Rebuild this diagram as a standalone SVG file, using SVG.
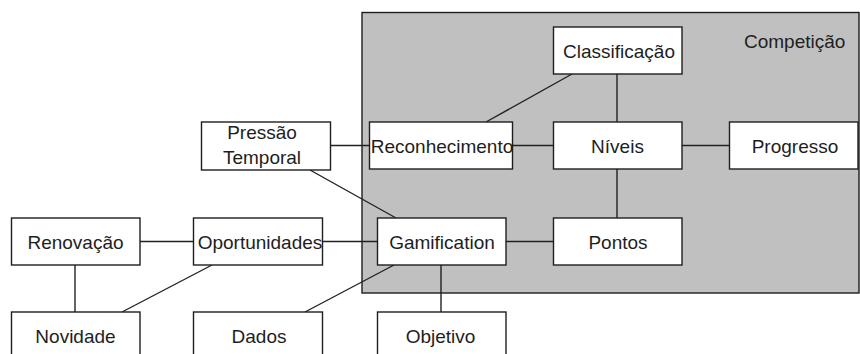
<svg xmlns="http://www.w3.org/2000/svg" width="860" height="354" viewBox="0 0 860 354">
  <style>
    .box { fill: #ffffff; stroke: #1e1e1e; stroke-width: 1.4; }
    .group { fill: #c0c0c0; stroke: #1e1e1e; stroke-width: 1.4; }
    .lbl { font-family: "Liberation Sans", Arial, sans-serif; font-size: 19px; fill: #1e1e1e; text-anchor: middle; }
    .edge { stroke: #222222; stroke-width: 1.4; fill: none; }
  </style>
  <rect width="860" height="354" fill="#ffffff"/>

  <!-- Competição container -->
  <g id="competicao">
    <rect class="group" x="362" y="12.5" width="497" height="280.5"/>
    <text class="lbl" x="744" y="47.5" style="text-anchor:start">Competição</text>
  </g>

  <!-- connectors -->
  <g id="connectors">
    <line class="edge" x1="572" y1="74" x2="486" y2="122"/>
    <line class="edge" x1="617" y1="74" x2="617" y2="122"/>
    <line class="edge" x1="331" y1="145.5" x2="369" y2="145.5"/>
    <line class="edge" x1="513" y1="145.5" x2="553" y2="145.5"/>
    <line class="edge" x1="682" y1="145.5" x2="729" y2="145.5"/>
    <line class="edge" x1="617" y1="169" x2="617" y2="218"/>
    <line class="edge" x1="506" y1="241.5" x2="553" y2="241.5"/>
    <line class="edge" x1="310" y1="170" x2="396" y2="218"/>
    <line class="edge" x1="323" y1="241.5" x2="377" y2="241.5"/>
    <line class="edge" x1="140" y1="241.5" x2="193" y2="241.5"/>
    <line class="edge" x1="75" y1="265" x2="75" y2="312"/>
    <line class="edge" x1="212" y1="265" x2="122" y2="312"/>
    <line class="edge" x1="394" y1="265" x2="305" y2="312"/>
    <line class="edge" x1="441" y1="265" x2="441" y2="312"/>
  </g>

  <g id="classificacao">
    <rect class="box" x="553.5" y="27" width="128.5" height="47"/>
    <text class="lbl" x="619" y="57.5">Classificação</text>
  </g>
  <g id="niveis">
    <rect class="box" x="553.5" y="122" width="128.5" height="47"/>
    <text class="lbl" x="617.5" y="152.5">Níveis</text>
  </g>
  <g id="progresso">
    <rect class="box" x="729.5" y="122" width="128.5" height="47"/>
    <text class="lbl" x="795" y="152.5">Progresso</text>
  </g>
  <g id="reconhecimento">
    <rect class="box" x="369.5" y="122" width="143" height="47"/>
    <text class="lbl" x="442" y="152.5">Reconhecimento</text>
  </g>
  <g id="pressao-temporal">
    <rect class="box" x="201.5" y="122" width="129" height="48"/>
    <text class="lbl" x="262" y="139">Pressão</text>
    <text class="lbl" x="262" y="163.5">Temporal</text>
  </g>
  <g id="gamification">
    <rect class="box" x="377.5" y="218" width="128.5" height="47"/>
    <text class="lbl" x="442" y="248.5">Gamification</text>
  </g>
  <g id="pontos">
    <rect class="box" x="553.5" y="218" width="128.5" height="47"/>
    <text class="lbl" x="618" y="248.5">Pontos</text>
  </g>
  <g id="renovacao">
    <rect class="box" x="11.5" y="218" width="128.5" height="47"/>
    <text class="lbl" x="75.5" y="248.5">Renovação</text>
  </g>
  <g id="oportunidades">
    <rect class="box" x="193.5" y="218" width="129" height="47"/>
    <text class="lbl" x="260" y="248.5">Oportunidades</text>
  </g>
  <g id="novidade">
    <rect class="box" x="11.5" y="312" width="128.5" height="47"/>
    <text class="lbl" x="75.5" y="343">Novidade</text>
  </g>
  <g id="dados">
    <rect class="box" x="193.5" y="312" width="129" height="47"/>
    <text class="lbl" x="259" y="343">Dados</text>
  </g>
  <g id="objetivo">
    <rect class="box" x="377.5" y="312" width="128.5" height="47"/>
    <text class="lbl" x="440.5" y="343">Objetivo</text>
  </g>
</svg>
